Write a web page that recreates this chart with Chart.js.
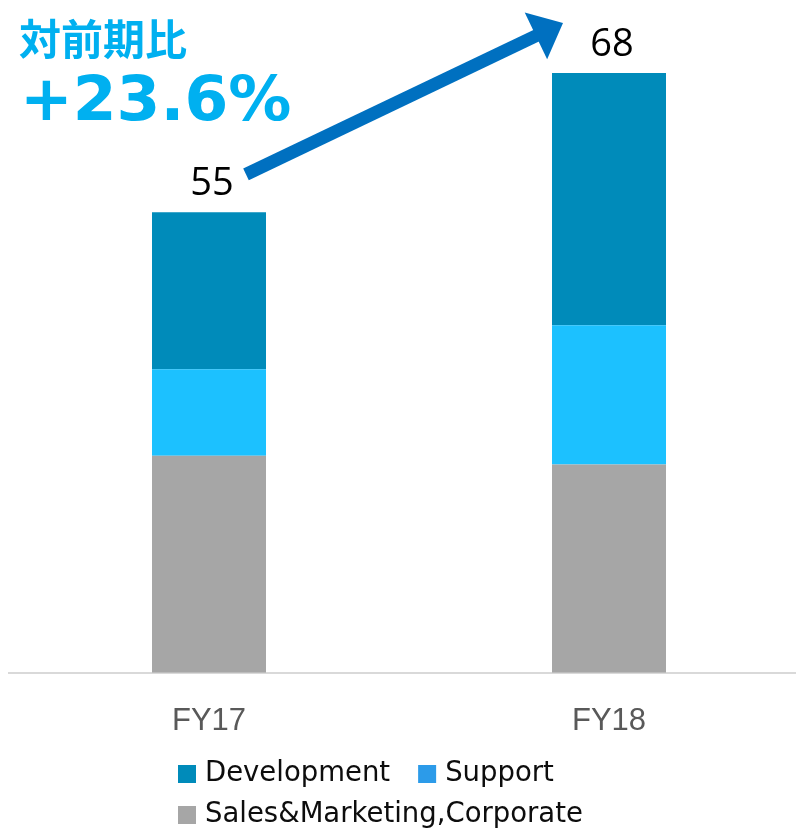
<!DOCTYPE html>
<html>
<head>
<meta charset="utf-8">
<script src="https://cdn.jsdelivr.net/npm/chart.js@4"></script>
<style>
	html, body { margin: 0; padding: 0; background: #fff; overflow: hidden; }
	#wrap { width: 809px; height: 830px; }
</style>
</head>
<body>
<div id="wrap"><canvas id="staffChart" width="809" height="830"></canvas></div>
<script>
const categories = ["FY17", "FY18"];
const salesCorporate = [24.6, 23.6];
const support = [9.8, 15.8];
const development = [17.8, 28.6];
const totals = [55, 68];
const growthTitle = "対前期比";
const growthValue = "+23.6%";

const legendItems = [
	{ label: "Development", color: "#008bba" },
	{ label: "Support", color: "#2c9be9" },
	{ label: "Sales&Marketing,Corporate", color: "#a6a6a6" },
];

const overlayPlugin = {
	id: "overlay",
	afterDraw(chart) {
		const ctx = chart.ctx;
		const topMeta = chart.getDatasetMeta(chart.data.datasets.length - 1);
		const bars = topMeta.data;

		ctx.save();

		// totals above bars
		ctx.fillStyle = "#000";
		ctx.font = '38px "Open Sans"';
		ctx.textAlign = "center";
		ctx.textBaseline = "alphabetic";
		bars.forEach(function (bar, i) {
			ctx.fillText(String(totals[i]), bar.x + 3, bar.y - 17);
		});

		// growth arrow
		const x1 = bars[0].x + 37, y1 = bars[0].y - 38;
		const x2 = bars[1].x - 46, y2 = bars[1].y - 50;
		const ang = Math.atan2(y2 - y1, x2 - x1);
		const headLen = 30, headHalf = 26;
		const bx = x2 - headLen * Math.cos(ang), by = y2 - headLen * Math.sin(ang);
		ctx.strokeStyle = "#0070c0";
		ctx.fillStyle = "#0070c0";
		ctx.lineWidth = 13;
		ctx.lineCap = "butt";
		ctx.beginPath();
		ctx.moveTo(x1, y1);
		ctx.lineTo(bx + 2 * Math.cos(ang), by + 2 * Math.sin(ang));
		ctx.stroke();
		ctx.beginPath();
		ctx.moveTo(x2, y2);
		ctx.lineTo(bx + headHalf * Math.sin(ang), by - headHalf * Math.cos(ang));
		ctx.lineTo(bx - headHalf * Math.sin(ang), by + headHalf * Math.cos(ang));
		ctx.closePath();
		ctx.fill();

		// growth text
		ctx.fillStyle = "#00b0f0";
		ctx.textAlign = "left";
		ctx.textBaseline = "middle";
		ctx.font = 'bold 42px "Noto Sans CJK JP"';
		ctx.fillText(growthTitle, 19, 39);
		ctx.font = 'bold 63px "DejaVu Sans"';
		ctx.fillText(growthValue, 20, 104);

		// legend
		ctx.font = '27.5px "DejaVu Sans"';
		ctx.textBaseline = "middle";
		const rows = [[legendItems[0], legendItems[1]], [legendItems[2]]];
		rows.forEach(function (row, r) {
			let x = 178;
			const y = 774 + r * 41;
			row.forEach(function (item) {
				ctx.fillStyle = item.color;
				ctx.fillRect(x, y - 9, 18, 18);
				ctx.fillStyle = "#0d0d0d";
				ctx.fillText(item.label, x + 27, y);
				x += 27 + ctx.measureText(item.label).width + 28;
			});
		});

		ctx.restore();
	},
};

document.addEventListener("DOMContentLoaded", function () {
	const ctx = document.getElementById("staffChart").getContext("2d");

	new Chart(ctx, {
		type: "bar",
		data: {
			labels: categories,
			datasets: [
				{ label: "Sales&Marketing,Corporate", data: salesCorporate, backgroundColor: "#a6a6a6" },
				{ label: "Support", data: support, backgroundColor: "#1cc1ff" },
				{ label: "Development", data: development, backgroundColor: "#008bba" },
			],
		},
		options: {
			responsive: false,
			animation: false,
			barPercentage: 0.285,
			categoryPercentage: 1,
			layout: { padding: { left: 9, right: 0, top: 20, bottom: 68 } },
			scales: {
				x: {
					stacked: true,
					grid: { display: false },
					border: { display: true, color: "#d9d9d9", width: 2 },
					ticks: {
						color: "#595959",
						padding: 22,
						font: { family: "Liberation Sans", size: 31 },
					},
				},
				y: {
					stacked: true,
					display: false,
					min: 0,
					max: 74,
				},
			},
			plugins: {
				legend: { display: false },
				tooltip: { enabled: false },
			},
		},
		plugins: [overlayPlugin],
	});
});
</script>
</body>
</html>
